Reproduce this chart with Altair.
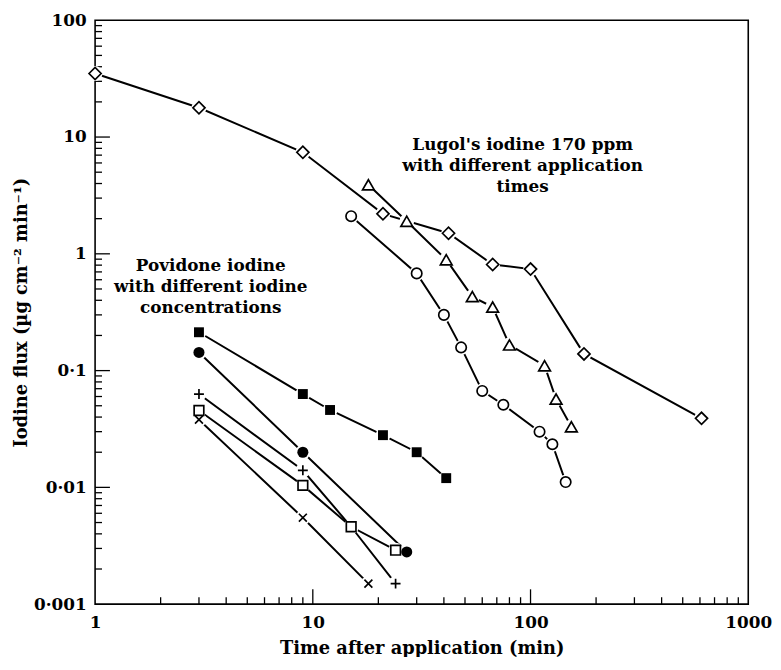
import altair as alt
import pandas as pd

# ---- data ----
lugol_diamond_x = [1, 3, 9, 21, 42, 67, 100, 176, 610]
lugol_diamond_y = [35, 17.8, 7.4, 2.2, 1.5, 0.81, 0.74, 0.139, 0.039]

lugol_triangle_x = [18, 27, 41, 54, 67, 80, 116, 131, 154]
lugol_triangle_y = [3.9, 1.9, 0.89, 0.43, 0.35, 0.166, 0.11, 0.057, 0.033]

lugol_circle_x = [15, 30, 40, 48, 60, 75, 110, 126, 145]
lugol_circle_y = [2.1, 0.68, 0.30, 0.158, 0.067, 0.051, 0.030, 0.0234, 0.0111]

pov_fsquare_x = [3, 9, 12, 21, 30, 41]
pov_fsquare_y = [0.213, 0.063, 0.046, 0.028, 0.020, 0.012]

pov_fcircle_x = [3, 9, 27]
pov_fcircle_y = [0.143, 0.020, 0.0028]

pov_plus_x = [3, 9, 15, 24]
pov_plus_y = [0.063, 0.014, 0.0046, 0.0015]

pov_osquare_x = [3, 9, 15, 24]
pov_osquare_y = [0.0455, 0.0104, 0.0046, 0.0029]

pov_cross_x = [3, 9, 18]
pov_cross_y = [0.038, 0.0055, 0.0015]

x_tick_values = [1, 10, 100, 1000]
y_tick_values = [0.001, 0.01, 0.1, 1, 10, 100]

annot_x = [92, 3.4]
annot_y = [8.5, 0.78]
annot_text = ["Lugol's iodine 170 ppm\nwith different application\ntimes",
              "Povidone iodine\nwith different iodine\nconcentrations"]

# ---- build tables ----
series = [
    ("diamond", lugol_diamond_x, lugol_diamond_y, "diamond", False, 150),
    ("triangle", lugol_triangle_x, lugol_triangle_y, "triangle-up", False, 140),
    ("ocircle", lugol_circle_x, lugol_circle_y, "circle", False, 110),
    ("fsquare", pov_fsquare_x, pov_fsquare_y, "square", True, 100),
    ("fcircle", pov_fcircle_x, pov_fcircle_y, "circle", True, 125),
    ("plus", pov_plus_x, pov_plus_y, "M-1,0L1,0M0,-1L0,1", False, 100),
    ("osquare", pov_osquare_x, pov_osquare_y, "square", False, 95),
    ("cross", pov_cross_x, pov_cross_y, "M-0.8,-0.8L0.8,0.8M-0.8,0.8L0.8,-0.8", False, 100),
]
rows = []
for name, xs, ys, *_ in series:
    for i, (a, b) in enumerate(zip(xs, ys)):
        rows.append({"series": name, "idx": i, "x": a, "y": b})
df = pd.DataFrame(rows)

minor_y = [k * 10.0 ** e for e in range(-3, 2) for k in range(2, 10)]
major_y = [0.01, 0.1, 1, 10]
minor_x = [k * 10.0 ** e for e in range(0, 3) for k in range(2, 10)]
major_x = [10, 100]

FONT = "DejaVu Serif"
H = 590
W = 660

xs = alt.Scale(type="log", domain=[1, 1000])
ys = alt.Scale(type="log", domain=[0.001, 100])
X = alt.X("x:Q", scale=xs, axis=alt.Axis(
    values=x_tick_values, format="~g", ticks=False, domain=False, grid=False,
    labelFlush=False, labelOverlap=False, labelFont=FONT, labelFontSize=17,
    labelFontWeight="bold", labelPadding=11, labelColor="black",
    title="Time after application (min)", titleFont=FONT, titleFontSize=18,
    titleFontWeight="bold", titlePadding=9, titleColor="black"))
Y = alt.Y("y:Q", scale=ys, axis=alt.Axis(
    values=y_tick_values, labelExpr="replace(format(datum.value, '~g'), '.', '·')",
    ticks=False, domain=False, grid=False, labelFlush=False, labelOverlap=False,
    labelFont=FONT, labelFontSize=17, labelFontWeight="bold", labelPadding=9,
    labelColor="black",
    title="Iodine flux (µg cm⁻² min⁻¹)", titleFont=FONT, titleFontSize=18,
    titleFontWeight="bold", titlePadding=3, titleColor="black"))

layers = []
# inward ticks
layers.append(alt.Chart(pd.DataFrame({"y": minor_y})).mark_rule(color="black", strokeWidth=1.3)
              .encode(y=Y, x=alt.value(0), x2=alt.value(7)))
layers.append(alt.Chart(pd.DataFrame({"y": major_y})).mark_rule(color="black", strokeWidth=1.3)
              .encode(y=Y, x=alt.value(0), x2=alt.value(15)))
layers.append(alt.Chart(pd.DataFrame({"x": minor_x})).mark_rule(color="black", strokeWidth=1.3)
              .encode(x=X, y=alt.value(H), y2=alt.value(H - 7)))
layers.append(alt.Chart(pd.DataFrame({"x": major_x})).mark_rule(color="black", strokeWidth=1.3)
              .encode(x=X, y=alt.value(H), y2=alt.value(H - 15)))

# lines
layers.append(alt.Chart(df).mark_line(color="black", strokeWidth=2.0)
              .encode(x=X, y=Y, detail="series:N", order="idx:Q"))
# white halos for the gap around markers
layers.append(alt.Chart(df).mark_point(shape="circle", filled=True, color="white",
                                       opacity=1, size=225)
              .encode(x=X, y=Y))
# markers
for name, _, _, shape, filled, size in series:
    if filled:
        mk = alt.Chart(df).mark_point(shape=shape, filled=True, color="black",
                                      opacity=1, size=size)
    else:
        mk = alt.Chart(df).mark_point(shape=shape, filled=False, stroke="black",
                                      fill="white", fillOpacity=1 if not shape.startswith("M") else 0,
                                      opacity=1, strokeWidth=1.7, size=size)
    layers.append(mk.encode(x=X, y=Y).transform_filter(alt.datum.series == name))

# annotations
adf = pd.DataFrame({"x": annot_x, "y": annot_y, "label": annot_text})
layers.append(alt.Chart(adf).mark_text(font=FONT, fontSize=17, fontWeight="bold",
                                       lineBreak="\n", lineHeight=21, align="center",
                                       baseline="middle", color="black")
              .encode(x=X, y=Y, text="label:N"))

chart = alt.layer(*layers).properties(
    width=W, height=H,
    autosize=alt.AutoSizeParams(type="none"),
    padding={"left": 88, "top": 9, "right": 25, "bottom": 50},
).configure_view(stroke="black", strokeWidth=1.6)

chart.save("out.html", embed_options={"renderer": "svg", "actions": False})
